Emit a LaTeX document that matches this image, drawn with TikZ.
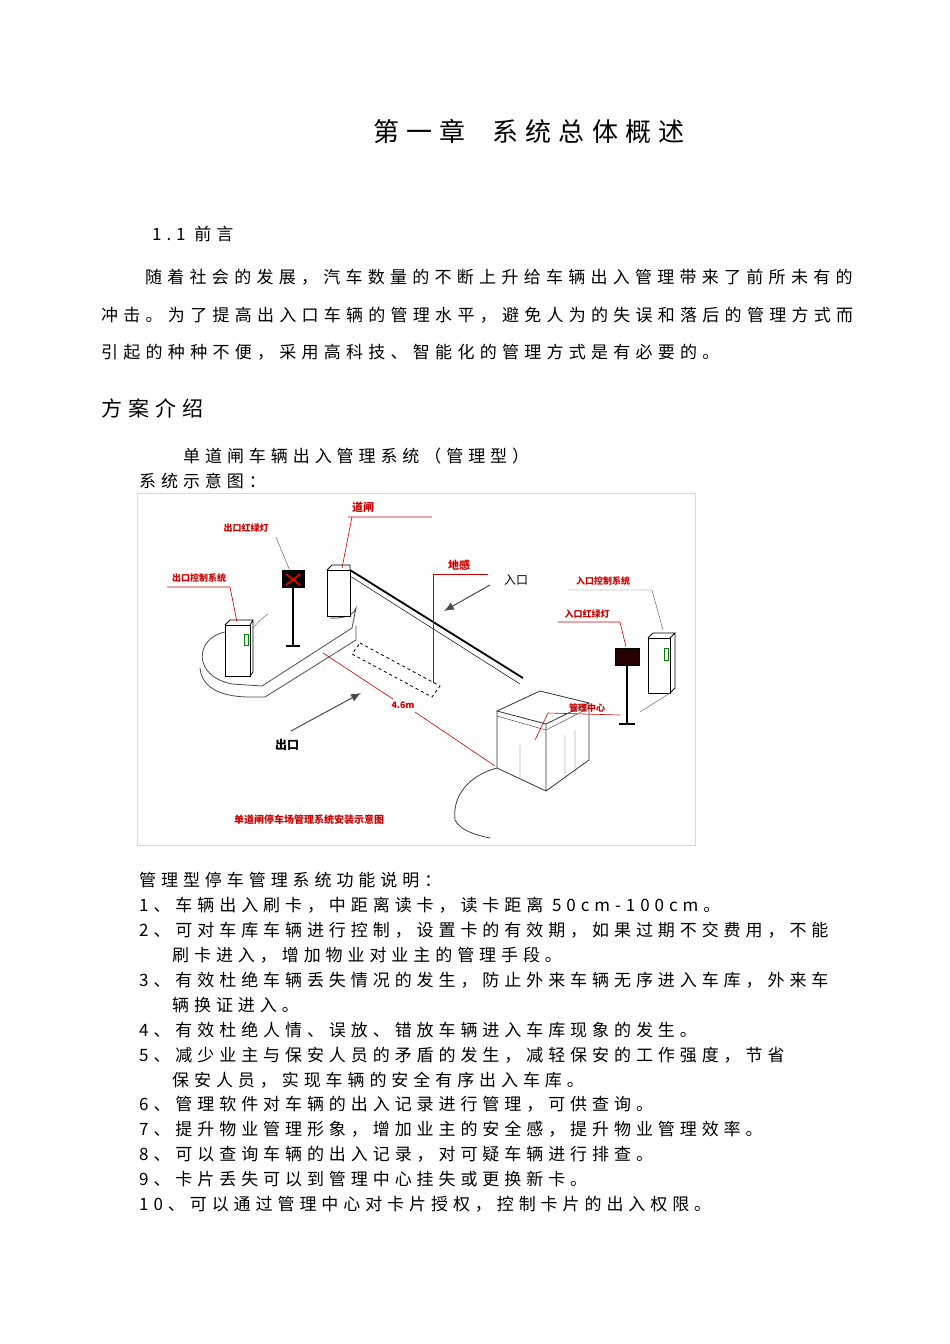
\documentclass[tikz,border=0pt]{standalone}
\usepackage{fontspec}
\usetikzlibrary{arrows.meta}
\newfontfamily\cjk{Noto Sans CJK SC}
\newfontfamily\cjks[LetterSpace=29]{Noto Sans CJK SC}
\tikzset{
 tl/.style={anchor=west,inner sep=0pt,font=\fontsize{17}{17}\cjks},
 rl/.style={inner sep=0pt,font=\fontsize{9}{9}\cjk\bfseries,text=red!80!black},
 rline/.style={red!80!black,line width=0.6pt},
 blk/.style={black,line width=0.8pt},
}
\begin{document}
\begin{tikzpicture}[x=1pt,y=-1pt]
\useasboundingbox (0,0) rectangle (950,1344);
\node[inner sep=0pt,font=\fontsize{26}{26}\cjk\addfontfeatures{LetterSpace=28}] (title) at (529,131) {第一章\ \ 系统总体概述};
\node[tl] (s11) at (152,234) {1.1 前言};
\node[tl,font=\fontsize{17}{17}\cjk\addfontfeatures{LetterSpace=31}] (p1) at (145,277) {随着社会的发展，汽车数量的不断上升给车辆出入管理带来了前所未有的};
\node[tl,font=\fontsize{17}{17}\cjk\addfontfeatures{LetterSpace=31}] (p2) at (101,315) {冲击。为了提高出入口车辆的管理水平，避免人为的失误和落后的管理方式而};
\node[tl,font=\fontsize{17}{17}\cjk\addfontfeatures{LetterSpace=31}] (p3) at (101,352) {引起的种种不便，采用高科技、智能化的管理方式是有必要的。};
\node[tl,font=\fontsize{21}{21}\cjks] (fa) at (101,408) {方案介绍};
\node[tl] (sub) at (183,456) {单道闸车辆出入管理系统（管理型）};
\node[tl] (sys) at (139,481) {系统示意图：};
% picture box
\draw[gray!30] (137,493) rectangle (695,845);
% island
\draw[blk,gray!60!black,fill=white] (225,632) .. controls (195,638) and (192,676) .. (232,684) -- (262,686) -- (352,628) -- (356,608) .. controls (352,620) and (330,618) .. (330,618);
\draw[blk,gray!60!black] (200,668) .. controls (202,690) and (225,697) .. (250,697) -- (265,697) -- (356,640) -- (356,626);
% gate column and arm
\draw[blk,fill=white] (327,570) rectangle (350,616);
\draw[blk] (327,570) -- (332,565) -- (350,565) -- (350,570);
\draw[black,line width=1.8pt] (350,570) -- (523,678);
\draw[black,line width=0.5pt] (350,576) -- (520,684);
% exit sign
\draw[black,line width=2pt] (293,588) -- (293,645);
\draw[black,line width=2pt] (286,646) -- (300,646);
\node[draw=black,fill=black,minimum width=22pt,minimum height=17pt,inner sep=0pt] (xs) at (293,579) {};
\draw[red,line width=1.5pt] (286,574) -- (300,585) (300,574) -- (286,585);
% exit control box
\draw[blk,fill=white] (225,625) rectangle (250,676);
\draw[blk] (225,625) -- (230,620) -- (253,620) -- (250,625) (253,620) -- (253,672) -- (250,676);
\draw[green!50!black] (244,634) rectangle (248,645);
\draw[gray,line width=0.6pt] (253,628) .. controls (260,620) .. (268,614);
% dashed loop
\draw[black,dashed,line width=0.8pt] (360,643) -- (440,686) -- (432,697) -- (352,654) -- cycle;
% arrows
\draw[gray!60!black,line width=1pt,-{Latex[length=10pt,width=8pt]}] (490,585) -- (444,611);
\draw[gray!60!black,line width=1pt,-{Latex[length=10pt,width=8pt]}] (291,731) -- (361,693);
\node[inner sep=0pt,font=\fontsize{12}{12}\cjk] (rk) at (516,580) {入口};
\node[inner sep=0pt,font=\fontsize{12}{12}\cjk\bfseries] (ck) at (287,745) {出口};
% entry sign
\draw[black,line width=2pt] (627,665) -- (627,723);
\draw[black,line width=2pt] (619,724) -- (635,724);
\node[draw=black,fill=black!85!red,minimum width=24pt,minimum height=17pt,inner sep=0pt] (es) at (627,657) {};
% entry control box
\draw[blk,fill=white] (648,638) rectangle (670,693);
\draw[blk] (648,638) -- (653,633) -- (675,633) -- (670,638) (675,633) -- (675,688) -- (670,693);
\draw[green!50!black] (664,648) rectangle (668,660);
\draw[gray,line width=0.6pt] (670,693) -- (640,712);
% booth
\draw[blk,gray!40!black,fill=white] (497,711) -- (540,691) -- (589,703) -- (546,724) -- cycle;
\draw[blk,gray!40!black] (497,711) -- (497,768) (546,724) -- (546,791) (589,703) -- (589,760) (497,768) -- (546,791) -- (589,760);
\draw[gray!40!black] (497,716) -- (546,730) -- (589,708) (520,745) -- (520,778) (565,735) -- (565,780) (575,730) -- (575,775);
\draw[gray!50!black,line width=0.8pt] (497,768) .. controls (470,775) and (452,795) .. (455,820) .. controls (460,830) and (475,835) .. (490,838);
% red labels and leaders
\node[rl,font=\fontsize{11}{11}\cjk\bfseries] (dz) at (363,507) {道闸};
\draw[rline] (348,517) -- (432,517) (352,517) -- (342,568);
\node[rl] (ckd) at (246,528) {出口红绿灯};
\draw[gray!60!black] (276,537) -- (290,571);
\node[rl] (ckk) at (199,578) {出口控制系统};
\draw[rline] (167,587) -- (230,587) -- (237,622);
\node[rl,font=\fontsize{11}{11}\cjk\bfseries] (dg) at (459,565) {地感};
\draw[rline] (488,574) -- (433,574) -- (433,683);
\node[rl] (rkk) at (603,581) {入口控制系统};
\draw[gray!60!black] (568,590) -- (652,590) -- (663,630);
\node[rl] (rkd) at (587,614) {入口红绿灯};
\draw[rline] (558,622) -- (620,622) -- (626,647);
\node[rl] (gl) at (587,708) {管理中心};
\draw[rline] (548,713) -- (620,715) (548,713) -- (535,740);
\node[rl,font=\fontsize{9}{9}\cjk\bfseries] (m) at (403,705) {4.6m};
\draw[rline] (323,653) -- (393,699) (415,712) -- (495,766);
\node[rl,font=\fontsize{10}{10}\cjk\bfseries] (cap) at (309,820) {单道闸停车场管理系统安装示意图};
% list
\node[tl] (l0) at (139,880) {管理型停车管理系统功能说明：};
\node[tl] (l1) at (139,905) {1、车辆出入刷卡，中距离读卡，读卡距离 50cm-100cm。};
\node[tl] (l2) at (139,930) {2、可对车库车辆进行控制，设置卡的有效期，如果过期不交费用，不能};
\node[tl] (l2b) at (172,955) {刷卡进入，增加物业对业主的管理手段。};
\node[tl] (l3) at (139,980) {3、有效杜绝车辆丢失情况的发生，防止外来车辆无序进入车库，外来车};
\node[tl] (l3b) at (172,1005) {辆换证进入。};
\node[tl] (l4) at (139,1030) {4、有效杜绝人情、误放、错放车辆进入车库现象的发生。};
\node[tl] (l5) at (139,1055) {5、减少业主与保安人员的矛盾的发生，减轻保安的工作强度，节省};
\node[tl] (l5b) at (172,1080) {保安人员，实现车辆的安全有序出入车库。};
\node[tl] (l6) at (139,1104) {6、管理软件对车辆的出入记录进行管理，可供查询。};
\node[tl] (l7) at (139,1129) {7、提升物业管理形象，增加业主的安全感，提升物业管理效率。};
\node[tl] (l8) at (139,1154) {8、可以查询车辆的出入记录，对可疑车辆进行排查。};
\node[tl] (l9) at (139,1179) {9、卡片丢失可以到管理中心挂失或更换新卡。};
\node[tl] (l10) at (139,1204) {10、可以通过管理中心对卡片授权，控制卡片的出入权限。};
\end{tikzpicture}
\end{document}
